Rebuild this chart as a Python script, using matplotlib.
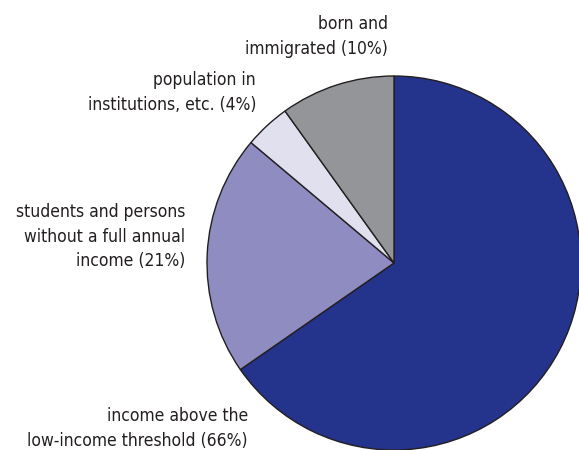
import matplotlib.pyplot as plt

# shares of the population (percent)
labels = ['income above the\nlow-income threshold (66%)',
          'students and persons\nwithout a full annual\nincome (21%)',
          'population in\ninstitutions, etc. (4%)',
          'born and\nimmigrated (10%)']
shares = [66, 21, 4, 10]
colors = ['#24338c', '#8e8cc0', '#e0e0ee', '#939598']

# label anchor points (right edge, top of text), in pixels from top-left
label_x = [248, 185, 256, 388]
label_y = [407, 203, 71, 15]

W, H = 579, 450
fig = plt.figure(figsize=(W / 100, H / 100), dpi=100)
ax = fig.add_axes([0, 0, 1, 1])
ax.set_xlim(0, W)
ax.set_ylim(0, H)
ax.set_aspect('equal')
ax.axis('off')

ax.pie(shares, colors=colors, startangle=90, counterclock=False,
       center=(394, H - 263), radius=187,
       wedgeprops={'edgecolor': '#231f20', 'linewidth': 1.0})
ax.set_xlim(0, W)
ax.set_ylim(0, H)

for text, x, y in zip(labels, label_x, label_y):
    ax.text(x, H - y, text, ha='right', va='top', multialignment='right',
            fontsize=12.5, color='#231f20', linespacing=1.48,
            family='DejaVu Sans', fontstretch='condensed')

fig.savefig('out.png', dpi=100)
